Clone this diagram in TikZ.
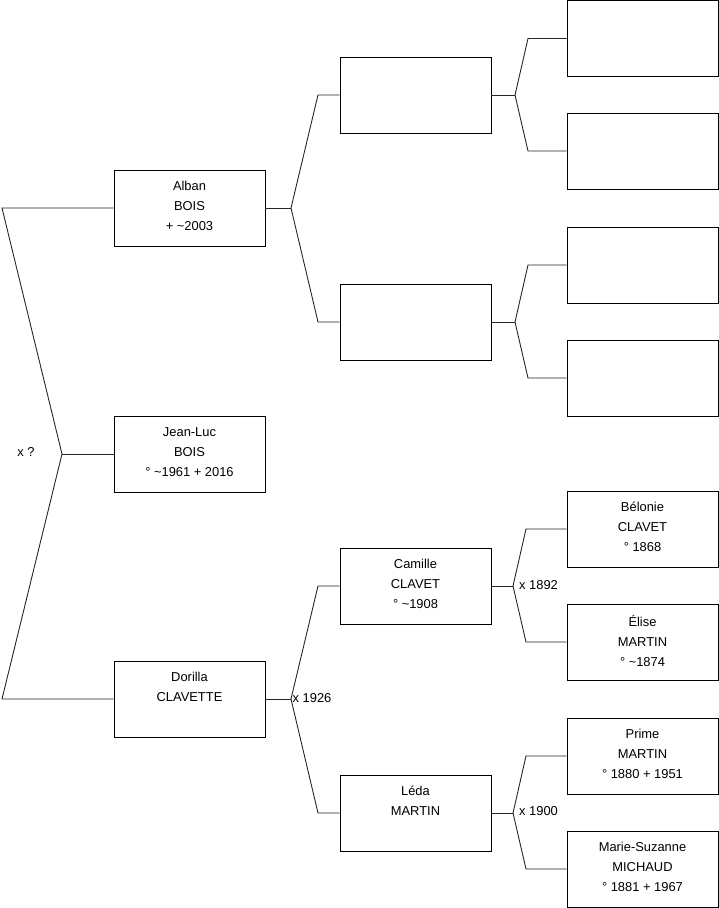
\documentclass[tikz,border=0pt]{standalone}
\usepackage{fontspec}
\setmainfont{Liberation Sans}
\begin{document}
\begin{tikzpicture}[x=1pt,y=-1pt,
  box/.style={draw=black,line width=0.9pt,rectangle,minimum width=151pt,minimum height=76pt,inner sep=0pt},
  txt/.style={align=center,inner sep=0pt,anchor=north,font=\fontsize{12.9}{20}\selectfont},
  mar/.style={inner sep=0pt,font=\fontsize{12.9}{20}\selectfont},
  conn/.style={line width=0.9pt,draw=black!85}]
\useasboundingbox (0,0) rectangle (719,908);
% column 1
\node[box] (alban) at (189.5,208) {};
\node[box] (jeanluc) at (189.5,454) {};
\node[box] (dorilla) at (189.5,699) {};
% column 2
\node[box] (p1) at (415.5,95) {};
\node[box] (p2) at (415.5,322) {};
\node[box] (camille) at (415.5,586) {};
\node[box] (leda) at (415.5,813) {};
% column 3
\node[box] (g1) at (642.5,38.5) {};
\node[box] (g2) at (642.5,151) {};
\node[box] (g3) at (642.5,265) {};
\node[box] (g4) at (642.5,378) {};
\node[box] (belonie) at (642.5,529) {};
\node[box] (elise) at (642.5,642) {};
\node[box] (prime) at (642.5,756) {};
\node[box] (marie) at (642.5,869) {};
% texts
\node[txt] (alban-t) at ([yshift=-11.5pt]alban.north) {Alban\\BOIS\\+ \textasciitilde2003};
\node[txt] (jeanluc-t) at ([yshift=-11.5pt]jeanluc.north) {Jean-Luc\\BOIS\\° \textasciitilde1961 + 2016};
\node[txt] (dorilla-t) at ([yshift=-11.5pt]dorilla.north) {Dorilla\\CLAVETTE};
\node[txt] (camille-t) at ([yshift=-11.5pt]camille.north) {Camille\\CLAVET\\° \textasciitilde1908};
\node[txt] (leda-t) at ([yshift=-11.5pt]leda.north) {Léda\\MARTIN};
\node[txt] (belonie-t) at ([yshift=-11.5pt]belonie.north) {Bélonie\\CLAVET\\° 1868};
\node[txt] (elise-t) at ([yshift=-11.5pt]elise.north) {Élise\\MARTIN\\° \textasciitilde1874};
\node[txt] (prime-t) at ([yshift=-11.5pt]prime.north) {Prime\\MARTIN\\° 1880 + 1951};
\node[txt] (marie-t) at ([yshift=-11.5pt]marie.north) {Marie-Suzanne\\MICHAUD\\° 1881 + 1967};
% left bracket
\coordinate (l1) at (2,208);
\coordinate (l2) at (62,454);
\coordinate (l3) at (2,699);
\draw[conn] (alban.west) -- (l1) -- (l2) -- (l3) -- (dorilla.west);
\draw[conn] (l2) -- (jeanluc.west);
\node[mar] (m0) at (26,452) {x ?};
% Alban parents
\coordinate (va) at (291,208);
\draw[conn] (alban.east) -- (va);
\draw[conn] (va) -- (318,95) -- (p1.west);
\draw[conn] (va) -- (318,322) -- (p2.west);
% Dorilla parents
\coordinate (vd) at (291,699);
\draw[conn] (dorilla.east) -- (vd);
\draw[conn] (vd) -- (318,586) -- (camille.west);
\draw[conn] (vd) -- (318,813) -- (leda.west);
\node[mar,anchor=west] (m1) at (292.5,698) {x 1926};
% p1 parents
\coordinate (vp1) at (515,95);
\draw[conn] (p1.east) -- (vp1);
\draw[conn] (vp1) -- (528,38.5) -- (g1.west);
\draw[conn] (vp1) -- (528,151) -- (g2.west);
% p2 parents
\coordinate (vp2) at (515,322);
\draw[conn] (p2.east) -- (vp2);
\draw[conn] (vp2) -- (528,265) -- (g3.west);
\draw[conn] (vp2) -- (528,378) -- (g4.west);
% Camille parents
\coordinate (vc) at (513,586);
\draw[conn] (camille.east) -- (vc);
\draw[conn] (vc) -- (526,529) -- (belonie.west);
\draw[conn] (vc) -- (526,642) -- (elise.west);
\node[mar,anchor=west] (m2) at (519,585) {x 1892};
% Leda parents
\coordinate (vl) at (513,813);
\draw[conn] (leda.east) -- (vl);
\draw[conn] (vl) -- (526,756) -- (prime.west);
\draw[conn] (vl) -- (526,869) -- (marie.west);
\node[mar,anchor=west] (m3) at (519,811) {x 1900};
\end{tikzpicture}
\end{document}
